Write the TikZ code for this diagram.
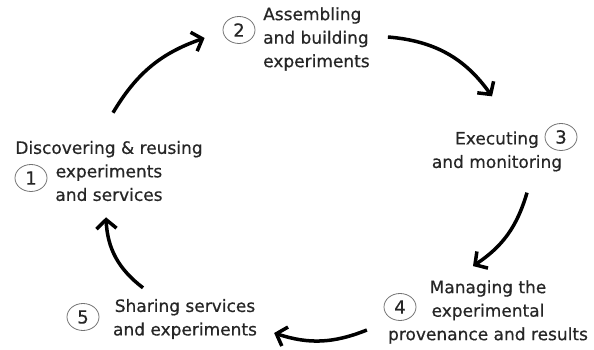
\documentclass[tikz,border=0pt]{standalone}
\usepackage{fontspec}
\setmainfont{DejaVu Sans}[FakeBold=0.6]
\usepackage{tikz}
\usetikzlibrary{arrows.meta,shapes.geometric,calc}

\begin{document}
\begin{tikzpicture}[x=1pt, y=1pt,
    lbl/.style={inner sep=0pt, text=black!85, font=\fontsize{17}{23.5}\selectfont},
    num/.style={ellipse, draw=black!55, line width=0.8pt, minimum width=32pt, minimum height=27pt, inner sep=0pt, text=black!85, font=\fontsize{18}{20}\selectfont},
    cyc/.style={line width=3.5pt, -{Straight Barb[length=9pt, width=20pt, line width=3.5pt]}}]
  \useasboundingbox (0,0) rectangle (594,350);

  % numbered circles
  \node[num] (n1) at (31,172)  {1}; % left
  \node[num] (n2) at (239,320) {2}; % top
  \node[num] (n3) at (561,213) {3}; % right
  \node[num] (n4) at (400,43)  {4}; % bottom-right
  \node[num] (n5) at (83,33)   {5}; % bottom-left

  % step texts
  \node[lbl, align=center] (t1) at (109,179) {Discovering \& reusing\\experiments\\and services};
  \node[lbl, align=left, anchor=west] (t2) at (263,311) {Assembling\\and building\\experiments};
  \node[lbl, align=center] (t3) at (497,198.5) {Executing\\and monitoring};
  \node[lbl, align=center] (t4) at (488,38) {Managing the\\experimental\\provenance and results};
  \node[lbl, align=center] (t5) at (185,31) {Sharing services\\and experiments};

  % cycle arrows
  \draw[cyc] ($(t1.north)+(4,28)$)   to[bend left=20] ($(n2.west)+(-18,-8)$);  % 1 -> 2
  \draw[cyc] ($(t2.east)+(18,2)$)    to[bend left=25] ($(t3.north)+(-5,35)$);  % 2 -> 3
  \draw[cyc] ($(t3.south)+(30,-21)$) to[bend left=20] ($(t4.north)+(-15,14)$); % 3 -> 4
  \draw[cyc] ($(t4.west)+(-21,-18)$) to[bend left=20] ($(t5.east)+(17,-14)$);  % 4 -> 5
  \draw[cyc] ($(t5.north)+(-42,11)$) to[bend left=25] ($(t1.south)+(-3,-16)$); % 5 -> 1
\end{tikzpicture}
\end{document}
